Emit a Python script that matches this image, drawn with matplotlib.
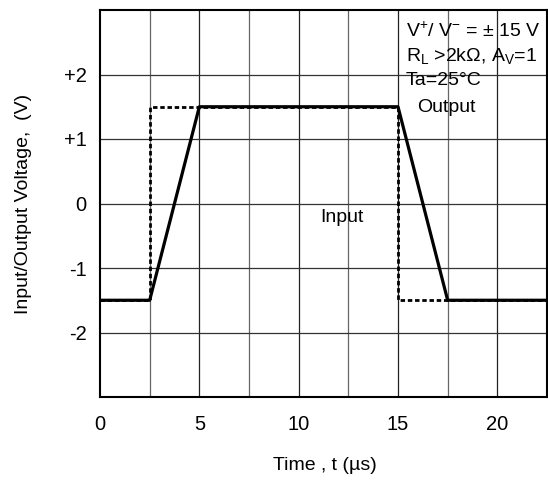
import matplotlib
matplotlib.use("Agg")
import matplotlib.pyplot as plt

plt.rcParams['font.family'] = ['Liberation Sans', 'DejaVu Sans']
plt.rcParams['mathtext.fontset'] = 'custom'
plt.rcParams['mathtext.rm'] = 'Liberation Sans'
plt.rcParams['mathtext.it'] = 'Liberation Sans'

# waveform data (time in us, voltage in V)
input_t = [0, 2.5, 2.5, 15, 15, 22.5]
input_v = [-1.5, -1.5, 1.5, 1.5, -1.5, -1.5]
output_t = [0, 2.5, 5, 15, 17.5, 22.5]
output_v = [-1.5, -1.5, 1.5, 1.5, -1.5, -1.5]

x_ticks = [0, 5, 10, 15, 20]
y_ticks = [-2, -1, 0, 1, 2]
y_tick_labels = ["-2", "-1", "0", "+1", "+2"]
x_grid = [2.5, 5, 7.5, 10, 12.5, 15, 17.5, 20]

fig = plt.figure(figsize=(5.48, 4.8), dpi=100)
ax = fig.add_axes([100 / 548, 83 / 480, 447 / 548, 387 / 480])

# grid
for x in x_grid:
    col = "#222222" if x % 5 == 0 else "#666666"
    ax.axvline(x, color=col, linewidth=0.9, zorder=1)
for y in y_ticks:
    ax.axhline(y, color="#333333", linewidth=0.9, zorder=1)

ax.plot(input_t, input_v, color="black", linewidth=2.0,
        linestyle=(0, (1.6, 1.0)), zorder=3)
ax.plot(output_t, output_v, color="black", linewidth=2.3, zorder=4)

ax.set_xlim(0, 22.5)
ax.set_ylim(-3, 3)
ax.set_xticks(x_ticks)
ax.set_yticks(y_ticks)
ax.set_yticklabels(y_tick_labels)
ax.tick_params(length=0, labelsize=14.5)
ax.tick_params(axis='x', pad=13)
ax.tick_params(axis='y', pad=9.5)
for s in ax.spines.values():
    s.set_linewidth(1.5)

ax.set_xlabel("Time , t (\u00b5s)", fontsize=14)
ax.xaxis.set_label_coords(0.503, -0.155)
ax.set_ylabel("Input/Output Voltage,  (V)", fontsize=14, va="center")
ax.yaxis.set_label_coords(-0.172, 0.5)

ax.text(15.4, 2.68, "V$^{+}$/ V$^{-}$ = \u00b1 15 V", fontsize=14, va="center")
ax.text(15.4, 2.29, "R$_{\\mathrm{L}}$ >2k\u03a9, A$_{\\mathrm{V}}$=1", fontsize=14, va="center")
ax.text(15.4, 1.91, "Ta=25\u00b0C", fontsize=14, va="center")
ax.text(17.44, 1.49, "Output", fontsize=14, ha="center", va="center")
ax.text(12.2, -0.22, "Input", fontsize=14, ha="center", va="center")

fig.savefig("out.png", dpi=100)
